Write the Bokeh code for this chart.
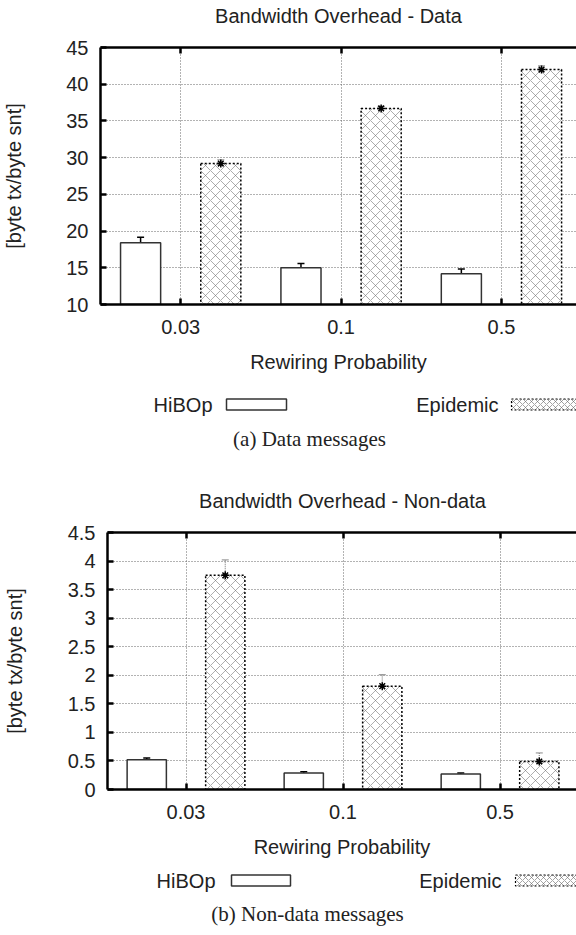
import numpy as np
from bokeh.plotting import figure
from bokeh.models import (Range1d, FixedTicker, LinearAxis, ColumnDataSource,
                          Whisker, TeeHead, NumeralTickFormatter)
from bokeh.embed import file_html
from bokeh.resources import INLINE
from bokeh.core.properties import value

# ---------------- data ----------------
categories = ["0.03", "0.1", "0.5"]
series_names = ["HiBOp", "Epidemic"]

data_hibop = [18.4, 15.0, 14.2]
data_hibop_err = [0.75, 0.6, 0.65]
data_epidemic = [29.2, 36.7, 42.0]
data_epidemic_err = [0.5, 0.3, 0.5]
data_yticks = [10, 15, 20, 25, 30, 35, 40, 45]

nondata_hibop = [0.52, 0.29, 0.27]
nondata_hibop_err = [0.03, 0.02, 0.02]
nondata_epidemic = [3.75, 1.81, 0.49]
nondata_epidemic_err = [0.27, 0.2, 0.15]
nondata_yticks = [0, 0.5, 1, 1.5, 2, 2.5, 3, 3.5, 4, 4.5]

titles = ["Bandwidth Overhead - Data", "Bandwidth Overhead - Non-data"]
captions = ["(a) Data messages", "(b) Non-data messages"]
x_title = "Rewiring Probability"
y_title = "[byte tx/byte snt]"

SANS = "Liberation Sans"
SERIF = "Liberation Serif"
TXT = "#222222"
FS = "20px"


def blank_fig(height):
    f = figure(width=576, height=height, output_backend="svg",
               toolbar_location=None, x_range=Range1d(0, 576),
               y_range=Range1d(height, 0), min_border=0,
               background_fill_color="white", border_fill_color="white")
    f.axis.visible = False
    f.grid.visible = False
    f.outline_line_color = None
    return f


def make_header(height, y, cx, title):
    h = blank_fig(height)
    h.text(x=[cx], y=[y], text=[title], text_font=value(SANS),
           text_font_size=FS, text_color=TXT, text_align="center",
           text_baseline="middle")
    return h


def style_axis(ax, ticks):
    ax.ticker = FixedTicker(ticks=ticks)
    ax.major_tick_in = 6
    ax.major_tick_out = 0
    ax.minor_tick_line_color = None
    ax.axis_line_width = 2.5
    ax.axis_line_color = "black"
    ax.major_tick_line_width = 2.5
    ax.major_tick_line_color = "black"
    ax.major_label_text_font = SANS
    ax.major_label_text_font_size = FS
    ax.major_label_text_color = TXT
    ax.axis_label_text_font = SANS
    ax.axis_label_text_font_size = FS
    ax.axis_label_text_font_style = "normal"
    ax.axis_label_text_color = TXT


def make_chart(hib, hib_err, epi, epi_err, yticks, x_end,
               height, left, top, bottom, ylab_standoff, ylabel_fmt=None):
    xs = np.arange(len(categories))
    p = figure(width=576, height=height, output_backend="svg",
               toolbar_location=None,
               x_range=Range1d(-0.5, x_end),
               y_range=Range1d(yticks[0], yticks[-1]),
               min_border_left=left, min_border_right=0,
               min_border_top=top, min_border_bottom=bottom,
               background_fill_color="white", border_fill_color="white")
    p.outline_line_color = None

    style_axis(p.xaxis[0], list(xs))
    p.xaxis[0].major_label_overrides = {int(i): c for i, c in zip(xs, categories)}
    p.xaxis[0].major_label_standoff = 15
    p.xaxis[0].axis_label = x_title
    p.xaxis[0].axis_label_standoff = 14

    style_axis(p.yaxis[0], yticks)
    p.yaxis[0].major_label_standoff = 12
    p.yaxis[0].axis_label = y_title
    p.yaxis[0].axis_label_standoff = ylab_standoff
    if ylabel_fmt:
        p.yaxis[0].formatter = NumeralTickFormatter(format=ylabel_fmt)

    top_ax = LinearAxis()
    style_axis(top_ax, list(xs))
    top_ax.major_label_text_font_size = "1px"
    top_ax.major_label_text_color = None
    top_ax.major_label_standoff = 0
    p.add_layout(top_ax, "above")

    for g in (p.xgrid[0], p.ygrid[0]):
        g.grid_line_color = "#666666"
        g.grid_line_dash = "1 2"
        g.grid_line_width = 1
    p.xgrid[0].ticker = FixedTicker(ticks=list(xs))
    p.ygrid[0].ticker = FixedTicker(ticks=yticks)

    base = yticks[0]
    src_h = ColumnDataSource(dict(x=xs - 0.25, top=hib,
                                  upper=[v + e for v, e in zip(hib, hib_err)],
                                  lower=[v - e for v, e in zip(hib, hib_err)]))
    src_e = ColumnDataSource(dict(x=xs + 0.25, top=epi,
                                  upper=[v + e for v, e in zip(epi, epi_err)],
                                  lower=[v - e for v, e in zip(epi, epi_err)]))
    p.vbar(x="x", top="top", bottom=base, width=0.25, source=src_h,
           fill_color="white", line_color="#333333", line_width=1.5)
    p.vbar(x="x", top="top", bottom=base, width=0.25, source=src_e,
           fill_color="white", hatch_pattern="diagonal_cross",
           hatch_color="#666666", hatch_scale=10, hatch_weight=0.6,
           hatch_alpha=0.9, line_color="black", line_dash="2 2",
           line_width=1.5)
    p.add_layout(Whisker(base="x", upper="upper", lower="lower", source=src_h,
                         line_color="black", line_width=1.5,
                         upper_head=TeeHead(size=7, line_width=1.5, line_color="black"),
                         lower_head=TeeHead(size=7, line_width=1.5, line_color="black")))
    p.add_layout(Whisker(base="x", upper="upper", lower="lower", source=src_e,
                         line_color="#888888", line_width=1.2, line_dash="1 1",
                         upper_head=TeeHead(size=7, line_width=1, line_color="#888888"),
                         lower_head=TeeHead(size=7, line_width=1, line_color="#888888")))
    p.scatter(x="x", y="top", source=src_e, marker="asterisk", size=8,
              line_color="black", line_width=1.5)
    return p


def make_legend(height, y_leg, y_cap, h_right, h_box, e_right, e_box, cap_x, caption):
    lf = blank_fig(height)
    lf.text(x=[h_right, e_right], y=[y_leg, y_leg], text=series_names,
            text_font=value(SANS), text_font_size=FS, text_color=TXT,
            text_align="right", text_baseline="middle")
    lf.quad(left=[h_box[0]], right=[h_box[1]], top=[y_leg - 5.5], bottom=[y_leg + 5.5],
            fill_color="white", line_color="#333333", line_width=1.5)
    lf.quad(left=[e_box[0]], right=[e_box[1]], top=[y_leg - 5.5], bottom=[y_leg + 5.5],
            fill_color="white", hatch_pattern="diagonal_cross",
            hatch_color="#666666", hatch_scale=6, hatch_weight=0.6,
            line_color="black", line_dash="2 2", line_width=1.2)
    lf.text(x=[cap_x], y=[y_cap], text=[caption], text_font=value(SERIF),
            text_font_size="21px", text_color=TXT, text_align="center",
            text_baseline="middle")
    return lf


h1 = make_header(30, 15, 338, titles[0])
p1 = make_chart(data_hibop, data_hibop_err, data_epidemic,
                data_epidemic_err, data_yticks, 2.468,
                height=350, left=96, top=17, bottom=76, ylab_standoff=38)
l1 = make_legend(90, 24, 58, 212, (226, 286), 498, (511, 600), 309, captions[0])
h2 = make_header(45, 30, 342, titles[1])
p2 = make_chart(nondata_hibop, nondata_hibop_err, nondata_epidemic,
                nondata_epidemic_err, nondata_yticks, 2.487,
                height=347, left=107, top=17, bottom=73, ylab_standoff=39,
                ylabel_fmt="0.[0]")
l2 = make_legend(73, 18, 51, 215, (231, 290), 501, (515, 600), 307, captions[1])

open("out.html", "w").write(file_html([h1, p1, l1, h2, p2, l2], INLINE))
